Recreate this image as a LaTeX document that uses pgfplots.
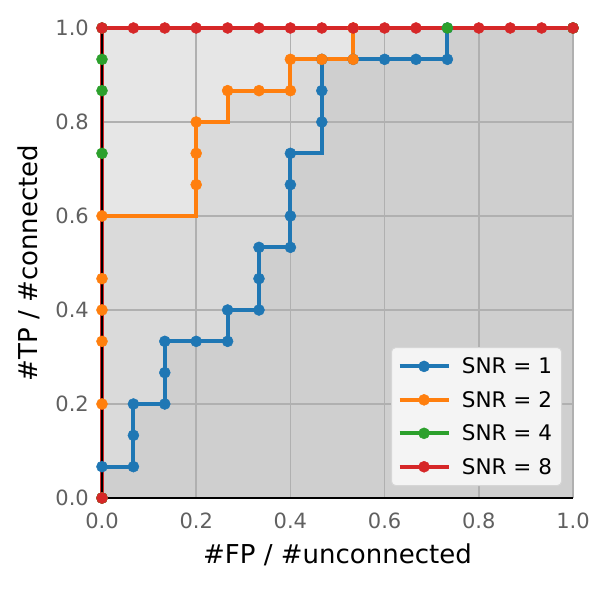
\documentclass[border=0pt]{standalone}
\usepackage{pgfplots}
\pgfplotsset{compat=1.18}
\usepackage{pgfplotstable}
\usepackage{fontspec}
\setmainfont{DejaVu Sans}
\definecolor{cA}{HTML}{1F77B4}
\definecolor{cB}{HTML}{FF7F0E}
\definecolor{cC}{HTML}{2CA02C}
\definecolor{cD}{HTML}{D62728}
\definecolor{tickgray}{HTML}{606060}
\definecolor{gridgray}{HTML}{B0B0B0}
\definecolor{legbg}{HTML}{F4F4F4}
\definecolor{legedge}{HTML}{D6D6D6}

\pgfplotstableread{
x y
0 0
0 0.0667
0.0667 0.0667
0.0667 0.1333
0.0667 0.2
0.1333 0.2
0.1333 0.2667
0.1333 0.3333
0.2 0.3333
0.2667 0.3333
0.2667 0.4
0.3333 0.4
0.3333 0.4667
0.3333 0.5333
0.4 0.5333
0.4 0.6
0.4 0.6667
0.4 0.7333
0.4667 0.8
0.4667 0.8667
0.4667 0.9333
0.5333 0.9333
0.6 0.9333
0.6667 0.9333
0.7333 0.9333
0.7333 1
1 1
}\snrone

\pgfplotstableread{
x y
0 0
0 0.2
0 0.3333
0 0.4
0 0.4667
0 0.6
0.2 0.6667
0.2 0.7333
0.2 0.8
0.2667 0.8667
0.3333 0.8667
0.4 0.8667
0.4 0.9333
0.4667 0.9333
0.5333 0.9333
0.5333 1
1 1
}\snrtwo

\pgfplotstableread{
x y
0 0
0 0.7333
0 0.8667
0 0.9333
0 1
0.7333 1
1 1
}\snrfour

\pgfplotstableread{
x y
0 0
0 1
0.0667 1
0.1333 1
0.2 1
0.2667 1
0.3333 1
0.4 1
0.4667 1
0.5333 1
0.6 1
0.6667 1
0.8 1
0.8667 1
0.9333 1
1 1
}\snreight

\begin{document}
\begin{tikzpicture}
\begin{axis}[
  set layers=standard,
  at={(0,0)}, anchor=south west,
  scale only axis, width=471pt, height=470pt,
  xmin=0, xmax=1, ymin=0, ymax=1,
  axis line style={draw=none},
  clip=false,
  xtick={0,0.2,0.4,0.6,0.8,1},
  ytick={0,0.2,0.4,0.6,0.8,1},
  xticklabels={0.0,0.2,0.4,0.6,0.8,1.0},
  yticklabels={0.0,0.2,0.4,0.6,0.8,1.0},
  major tick length=0pt,
  tick style={draw=none},
  grid=major,
  major grid style={gridgray, line width=1.5pt},
  ticklabel style={font=\fontsize{21}{25}\selectfont, text=tickgray, inner sep=0pt},
  xticklabel style={anchor=north, yshift=-15pt},
  yticklabel style={anchor=east, xshift=-13pt},
  xlabel={\#FP / \#unconnected},
  ylabel={\#TP / \#connected},
  label style={font=\fontsize{26}{31}\selectfont, inner sep=0pt},
  xlabel style={at={(axis description cs:0.5,-0.1404)}, anchor=base},
  ylabel style={at={(axis description cs:-0.138,0.5)}, anchor=base},
  legend style={
    at={(axis description cs:1,0)}, anchor=south east,
    xshift=-11pt, yshift=12pt,
    font=\fontsize{21.5}{26}\selectfont,
    draw=legedge, line width=1pt, fill=legbg,
    rounded corners=4pt,
    inner xsep=6pt, inner ysep=10pt,
    row sep=16pt, column sep=11.4pt,
    nodes={inner sep=0pt},
    cells={anchor=west},
  },
  legend image code/.code={\draw[sharp plot, mark repeat=2,mark phase=2] plot coordinates {(0pt,0pt) (24.5pt,0pt) (49pt,0pt)};},
]
% areas under each curve
\addplot[on layer=axis background, const plot, draw=none, fill=black, fill opacity=0.05, no markers, forget plot] table {\snrone} \closedcycle;
\addplot[on layer=axis background, const plot, draw=none, fill=black, fill opacity=0.05, no markers, forget plot] table {\snrtwo} \closedcycle;
\addplot[on layer=axis background, const plot, draw=none, fill=black, fill opacity=0.05, no markers, forget plot] table {\snrfour} \closedcycle;
\addplot[on layer=axis background, const plot, draw=none, fill=black, fill opacity=0.05, no markers, forget plot] table {\snreight} \closedcycle;
% curves
\addplot[const plot, cA, line width=4pt, mark=*, mark size=5.5pt, mark options={solid, line width=0.5pt, fill=cA}] table {\snrone};
\addlegendentry{SNR = 1\rule{3.5pt}{0pt}}
\addplot[const plot, cB, line width=4pt, mark=*, mark size=5.5pt, mark options={solid, line width=0.5pt, fill=cB}] table {\snrtwo};
\addlegendentry{SNR = 2\rule{3.5pt}{0pt}}
\addplot[const plot, cC, line width=4pt, mark=*, mark size=5.5pt, mark options={solid, line width=0.5pt, fill=cC}] table {\snrfour};
\addlegendentry{SNR = 4\rule{3.5pt}{0pt}}
\addplot[const plot, cD, line width=4pt, mark=*, mark size=5.5pt, mark options={solid, line width=0.5pt, fill=cD}] table {\snreight};
\addlegendentry{SNR = 8\rule{3.5pt}{0pt}}
% spines
\draw[black, line width=2.5pt] (rel axis cs:0,1) -- (rel axis cs:0,0) -- (rel axis cs:1,0);
\end{axis}
\path (-102pt,-90pt) rectangle (507pt,498pt);
\end{tikzpicture}
\end{document}
